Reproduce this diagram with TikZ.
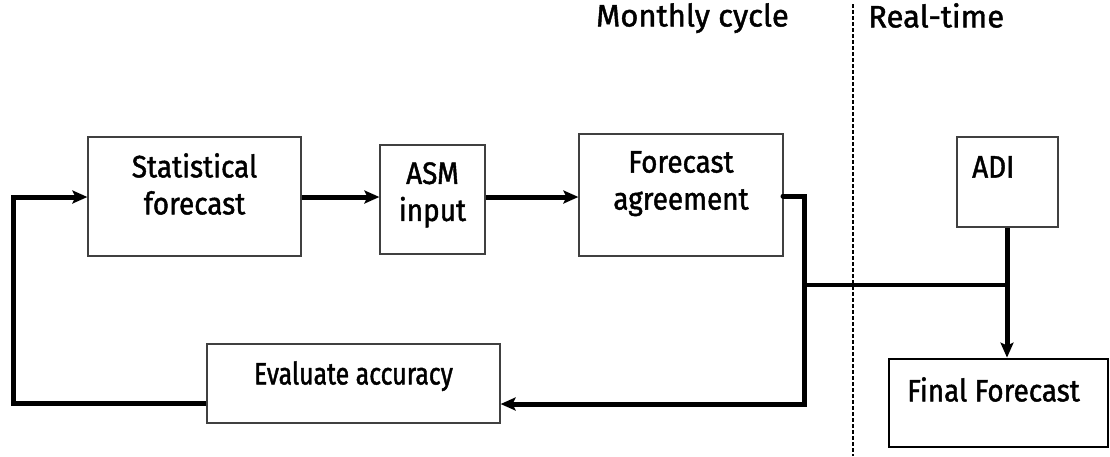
\documentclass[tikz,border=0pt]{standalone}
\usepackage{fontspec}
\newfontfamily\boxfont{Fira Sans}[FakeStretch=0.9, FakeBold=1.4]
\newfontfamily\narrowfont{Fira Sans}[FakeStretch=0.8, FakeBold=1.4]
\newfontfamily\headfont{Fira Sans}[FakeBold=1.4]
\usetikzlibrary{arrows.meta}
\begin{document}
\begin{tikzpicture}[x=1pt,y=-1pt,
  box/.style={draw=black!75, line width=1.2pt, rectangle, inner sep=0pt},
  finalbox/.style={box, draw=black, line width=2.8pt},
  txt/.style={inner sep=0pt, align=center, font=\boxfont\fontsize{31}{37}\selectfont},
  narrowtxt/.style={txt, font=\narrowfont\fontsize{31}{37}\selectfont},
  head/.style={inner sep=0pt, font=\headfont\fontsize{31}{37}\selectfont},
  flow/.style={line width=5pt, -{Stealth[length=15pt,width=13pt,inset=3pt]}},
  bus/.style={line width=3.5pt},
  divider/.style={line width=2.4pt, dash pattern=on 4pt off 2pt}]
\useasboundingbox (0,0) rectangle (1110,456);

% process boxes
\node[box, minimum width=213pt, minimum height=119pt] (stat)  at (194.5,196.5) {};
\node[box, minimum width=105pt, minimum height=109pt] (asm)   at (432.5,199.5) {};
\node[box, minimum width=204pt, minimum height=122pt] (agree) at (681,195) {};
\node[box, minimum width=101pt, minimum height=90pt]  (adi)   at (1007.5,182) {};
\node[box, minimum width=293pt, minimum height=79pt]  (eval)  at (353.5,383.5) {};
\node[finalbox, minimum width=219pt, minimum height=88pt] (final) at (998.5,403) {};

% box texts
\node[txt, anchor=north] (statT)  at (194.5,153) {Statistical\\forecast};
\node[txt, anchor=north] (asmT)   at (432.5,162) {ASM\\input};
\node[txt, anchor=north] (agreeT) at (681,151) {Forecast\\agreement};
\node[txt, anchor=north west] (adiT) at (972,156) {ADI};
\node[narrowtxt, anchor=north] (evalT)  at (353.5,361) {Evaluate accuracy};
\node[txt, anchor=north west] (finalT) at (907,377) {Final Forecast};

% section headings and divider
\node[head, anchor=north west] (monthly) at (596,3) {Monthly cycle};
\node[head, anchor=north west] (rt) at (868,3) {Real-time};
\coordinate (divTop) at (853,4);
\coordinate (divBot) at (853,456);
\draw[divider] (divTop) -- (divBot);

% forward flow
\draw[flow] (stat.east |- 0,197) -- (asm.west |- 0,197);
\draw[flow] (asm.east |- 0,197) -- (agree.west |- 0,197);

% feedback loop
\coordinate (agreeOut) at (783,196);
\coordinate (busL) at (804,285);
\coordinate (busR) at (1007,285);
\draw[flow, line join=miter, line cap=round] (agreeOut) -- (804,196) -- (804,404) -- (eval.east |- 0,404);
\draw[flow, line join=miter] (eval.west |- 0,403) -- (13,403) -- (13,197) -- (stat.west |- 0,197);

% real-time path
\draw[bus] (busL) -- (busR);
\draw[flow] (busR |- adi.south) -- (busR |- final.north);
\end{tikzpicture}
\end{document}
